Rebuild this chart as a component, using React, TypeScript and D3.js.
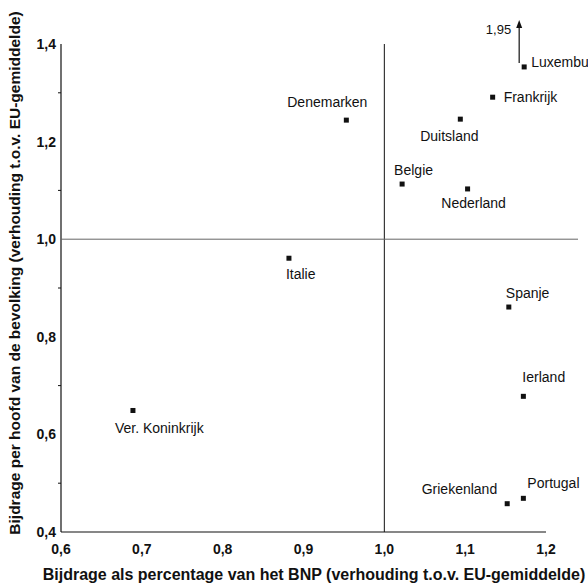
import * as d3 from "d3";

// Bijdrage als % van BNP (x) en per hoofd (y), t.o.v. EU-gemiddelde
const countries = [
  "Luxemburg", "Frankrijk", "Duitsland", "Denemarken", "Belgie", "Nederland",
  "Italie", "Spanje", "Ierland", "Portugal", "Griekenland", "Ver. Koninkrijk",
];
const gnpRatio = [1.173, 1.134, 1.094, 0.953, 1.022, 1.103, 0.882, 1.154, 1.172, 1.172, 1.152, 0.689];
const perCapita = [1.353, 1.291, 1.246, 1.244, 1.113, 1.103, 0.961, 0.861, 0.678, 0.469, 0.458, 0.649];
const luxActual = "1,95";

const xTicks = [0.6, 0.7, 0.8, 0.9, 1.0, 1.1, 1.2];
const yTicks = [0.4, 0.6, 0.8, 1.0, 1.2, 1.4];
const yMinor = [0.5, 0.7, 0.9, 1.1, 1.3];

// label placement relative to the point (pixels) + anchor
const labelPos: Record<string, [number, number, string]> = {
  Luxemburg: [7, -5, "start"],
  Frankrijk: [11, 0, "start"],
  Duitsland: [-11, 17, "middle"],
  Denemarken: [-19, -18, "middle"],
  Belgie: [-8, -14, "start"],
  Nederland: [6, 14, "middle"],
  Italie: [-3, 16, "start"],
  Spanje: [-3, -14, "start"],
  Ierland: [-1, -19, "start"],
  Portugal: [4, -15, "start"],
  Griekenland: [-10, -15, "end"],
  "Ver. Koninkrijk": [-18, 18, "start"],
};

const W = 588;
const H = 584;
const fmt = (v: number) => v.toFixed(1).replace(".", ",");

export default function App() {
  const x = d3.scaleLinear().domain([0.6, 1.2]).range([61, 546]);
  const y = d3.scaleLinear().domain([0.4, 1.4]).range([532, 44]);
  const font = "'Liberation Sans', Arial, sans-serif";

  const luxX = x(gnpRatio[0]) - 5;
  const luxY = y(perCapita[0]);
  const tipY = luxY - 47;

  return (
    <div style={{ position: "fixed", left: 0, top: 0, width: W, height: H, overflow: "hidden", background: "#fff" }}>
      <svg width={W} height={H} style={{ display: "block" }} fontFamily={font}>
        <rect width={W} height={H} fill="#fff" />
        {/* axes */}
        <line x1={x(0.6)} x2={x(0.6)} y1={y(1.4)} y2={y(0.4)} stroke="#111" strokeWidth={1.2} />
        <line x1={x(0.6)} x2={x(1.2)} y1={y(0.4)} y2={y(0.4)} stroke="#111" strokeWidth={1.2} />
        {/* reference lines at 1,0 */}
        <line x1={x(1.0)} x2={x(1.0)} y1={y(1.4)} y2={y(0.4)} stroke="#111" strokeWidth={1} />
        <line x1={x(0.6)} x2={578} y1={y(1.0)} y2={y(1.0)} stroke="#666" strokeWidth={1} />

        {yMinor.map((t) => (
          <line key={t} x1={x(0.6) - 3} x2={x(0.6)} y1={y(t)} y2={y(t)} stroke="#111" />
        ))}
        {yTicks.map((t) => (
          <text key={t} x={x(0.6) - 5} y={y(t)} dy="0.35em" textAnchor="end" fontSize={14} fontWeight="bold" fill="#111">
            {fmt(t)}
          </text>
        ))}
        {xTicks.map((t) => (
          <text key={t} x={x(t)} y={y(0.4) + 22} textAnchor="middle" fontSize={14} fontWeight="bold" fill="#111">
            {fmt(t)}
          </text>
        ))}

        {/* axis titles */}
        <text x={314} y={580} textAnchor="middle" fontSize={16} fill="#111" fontWeight="bold">
          Bijdrage als percentage van het BNP (verhouding t.o.v. EU-gemiddelde)
        </text>
        <text transform={`translate(20,${273}) rotate(-90)`} textAnchor="middle" fontSize={15.5} fill="#111" fontWeight="bold">
          Bijdrage per hoofd van de bevolking (verhouding t.o.v. EU-gemiddelde)
        </text>

        {/* points + labels */}
        {countries.map((c, i) => {
          const px = x(gnpRatio[i]);
          const py = y(perCapita[i]);
          const [dx, dy, anchor] = labelPos[c];
          return (
            <g key={c}>
              <rect x={px - 2.5} y={py - 2.5} width={5} height={5} fill="#111" />
              <text x={px + dx} y={py + dy} dy="0.35em" textAnchor={anchor} fontSize={14} fill="#111">
                {c}
              </text>
            </g>
          );
        })}

        {/* Luxemburg off-scale arrow */}
        <line x1={luxX} x2={luxX} y1={luxY - 4} y2={tipY + 6} stroke="#111" strokeWidth={1.2} />
        <path d={`M${luxX},${tipY} L${luxX - 3},${tipY + 8} L${luxX + 3},${tipY + 8} Z`} fill="#111" />
        <text x={luxX - 8} y={luxY - 37} dy="0.35em" textAnchor="end" fontSize={13} fill="#111">
          {luxActual}
        </text>
      </svg>
    </div>
  );
}
